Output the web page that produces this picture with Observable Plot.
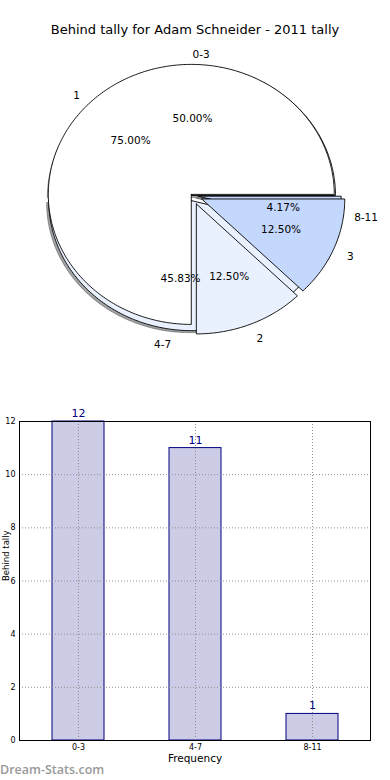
<!DOCTYPE html>
<html><head><meta charset="utf-8">
<script src="https://cdn.jsdelivr.net/npm/d3@7"></script>
<script src="https://cdn.jsdelivr.net/npm/@observablehq/plot@0.6"></script>
<style>
body{margin:0;background:#fff;font-family:"DejaVu Sans",sans-serif;}
#wrap{position:relative;width:390px;height:780px;overflow:hidden;background:#fff;}
#title{position:absolute;left:0;top:22px;width:390px;text-align:center;font-size:13px;line-height:16px;color:#000;}
#pie{position:absolute;left:0;top:0;}
#bar{position:absolute;left:0;top:400px;}
#mark{position:absolute;left:0;top:761px;font-family:"Open Sans",sans-serif;font-size:12.5px;line-height:17px;font-weight:600;color:#999;}
svg{font-family:"DejaVu Sans",sans-serif;}
</style></head><body>
<div id="wrap"><div id="pie"></div><div id="title"></div><div id="bar"></div><div id="mark"></div></div>
<script>
// ---- data ----
const chartTitle = "Behind tally for Adam Schneider - 2011 tally";
const groupLabels = ["0-3", "4-7", "8-11"];
const groupCounts = [12, 11, 1];
const tallyLabels = ["1", "2", "3"];
const tallyCounts = [18, 3, 3];
const yTicks = [0, 2, 4, 6, 8, 10, 12];
const xAxisLabel = "Frequency";
const yAxisLabel = "Behind tally";
const watermark = "Dream-Stats.com";

// ---- style ----
const groupExplode = [0, 0.04, 0.04];
const tallyExplode = [0.012, 0.07, 0.07];
const sliceColors = ["#ffffff", "#eaf1fe", "#c4d7fc"];
const font = "DejaVu Sans";

document.getElementById("title").textContent = chartTitle;
document.getElementById("mark").textContent = watermark;

function wedges(labels, counts, explode) {
  const total = d3.sum(counts);
  let acc = 0;
  return labels.map((lab, i) => {
    const frac = counts[i] / total;
    const a0 = acc * 2 * Math.PI, a1 = (acc + frac) * 2 * Math.PI;
    acc += frac;
    const mid = (a0 + a1) / 2;
    const cx = explode[i] * Math.cos(mid), cy = explode[i] * Math.sin(mid);
    const n = Math.max(4, Math.ceil((a1 - a0) / (Math.PI / 180)));
    const pts = [{x: cx, y: cy}];
    for (let k = 0; k <= n; k++) {
      const t = a0 + (a1 - a0) * k / n;
      pts.push({x: cx + Math.cos(t), y: cy + Math.sin(t)});
    }
    pts.push({x: cx, y: cy});
    const c = d3.rgb(sliceColors[i]);
    return {
      label: lab, pct: (frac * 100).toFixed(2) + "%", mid, pts,
      color: sliceColors[i],
      shadowColor: d3.rgb(c.r * 0.3, c.g * 0.3, c.b * 0.3).formatHex(),
      lx: cx + 1.1 * Math.cos(mid), ly: cy + 1.1 * Math.sin(mid),
      px: cx + 0.6 * Math.cos(mid), py: cy + 0.6 * Math.sin(mid),
      right: Math.cos(mid) > 0
    };
  });
}

const pieA = wedges(groupLabels, groupCounts, groupExplode);
const pieB = wedges(tallyLabels, tallyCounts, tallyExplode);
const all = [...pieA, ...pieB];

const shadowMarks = pieA.map(w => Plot.line(w.pts.map(p => ({x: p.x - 0.015, y: p.y - 0.015})), {
  x: "x", y: "y", fill: w.shadowColor, fillOpacity: 0.5, stroke: w.shadowColor, strokeOpacity: 0.5, strokeWidth: 1
}));
const wedgeMarks = all.map(w => Plot.line(w.pts, {
  x: "x", y: "y", fill: w.color, stroke: "black", strokeWidth: 0.9
}));

const pie = Plot.plot({
  width: 390, height: 400, margin: 0,
  x: {domain: [-192 / 143, 198 / 143], range: [0, 390], axis: null},
  y: {domain: [-205 / 130, 195 / 130], range: [400, 0], axis: null},
  style: {fontFamily: font, background: "transparent"},
  marks: [
    ...shadowMarks,
    ...wedgeMarks,
    Plot.text(all.filter(d => d.right), {x: "lx", y: "ly", text: "label", textAnchor: "start", fontSize: 10.5, fill: "black", dy: 2.5}),
    Plot.text(all.filter(d => !d.right), {x: "lx", y: "ly", text: "label", textAnchor: "end", fontSize: 10.5, fill: "black", dy: 2.5}),
    Plot.text(all, {x: "px", y: "py", text: "pct", fontSize: 10.5, fill: "black", dy: 1})
  ]
});
document.getElementById("pie").appendChild(pie);

const bars = groupLabels.map((g, i) => ({group: g, count: groupCounts[i]}));
const bar = Plot.plot({
  width: 390, height: 380,
  marginLeft: 19, marginRight: 20, marginTop: 21, marginBottom: 40,
  style: {fontFamily: font, background: "transparent"},
  x: {domain: groupLabels, paddingInner: 0.556, paddingOuter: 0.278, label: null},
  y: {domain: [0, 12], label: null},
  marks: [
    Plot.barY(bars, {x: "group", y: "count", fill: "navy", fillOpacity: 0.2, stroke: "navy", strokeWidth: 1}),
    Plot.gridY(yTicks, {stroke: "#888", strokeOpacity: 0.9, strokeDasharray: "1,2"}),
    Plot.gridX(groupLabels, {stroke: "#888", strokeOpacity: 0.9, strokeDasharray: "1,2"}),
    Plot.frame({stroke: "black"}),
    Plot.axisY(yTicks, {tickSize: 0, tickPadding: 4, fontSize: 8, label: null}),
    Plot.axisX(groupLabels, {tickSize: 0, tickPadding: 4, fontSize: 8, label: null}),
    Plot.text(bars, {x: "group", y: "count", text: d => String(d.count), dy: -8, fill: "navy", fontSize: 11}),
    Plot.text([xAxisLabel], {frameAnchor: "bottom", dy: 21, text: d => d, fontSize: 10.5, fill: "black"}),
    Plot.text([yAxisLabel], {frameAnchor: "left", dx: -13, rotate: -90, text: d => d, fontSize: 8.5, fill: "black"})
  ]
});
document.getElementById("bar").appendChild(bar);
</script>
</body></html>
